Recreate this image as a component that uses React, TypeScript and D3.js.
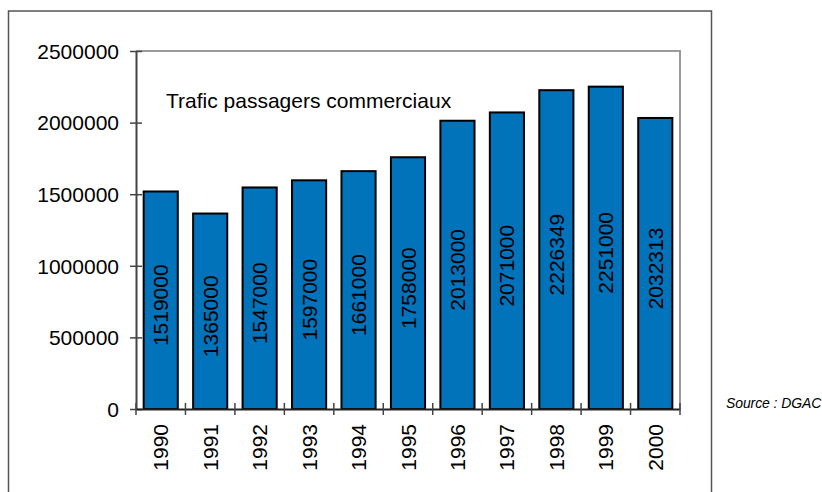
// Bar chart: commercial passenger traffic 1990-2000
import { useEffect, useRef } from "react";
import * as d3 from "d3";

// Data
const years = ["1990", "1991", "1992", "1993", "1994", "1995", "1996", "1997", "1998", "1999", "2000"];
const passengers = [1519000, 1365000, 1547000, 1597000, 1661000, 1758000, 2013000, 2071000, 2226349, 2251000, 2032313];
const yTicks = [0, 500000, 1000000, 1500000, 2000000, 2500000];

const TITLE = "Trafic passagers commerciaux";
const SOURCE = "Source : DGAC";

// Layout constants
const width = 822;
const height = 492;
const PLOT = { left: 136, right: 680, top: 51, bottom: 409 };
const FONT = "Arial, 'Liberation Sans', sans-serif";
const BAR_COLOR = "#0073BB";

export default function App() {
  const svgRef = useRef<SVGSVGElement | null>(null);

  useEffect(() => {
    const svg = d3.select(svgRef.current);
    svg.selectAll("*").remove();

    const x = d3
      .scaleBand()
      .domain(years)
      .range([PLOT.left, PLOT.right])
      .paddingInner(0.31)
      .paddingOuter(0.155);

    const y = d3.scaleLinear().domain([0, 2500000]).range([PLOT.bottom, PLOT.top]);

    // outer frame (bottom edge falls off the page)
    svg
      .append("rect")
      .attr("x", 8.5)
      .attr("y", 11)
      .attr("width", 703)
      .attr("height", 520)
      .attr("fill", "none")
      .attr("stroke", "#555")
      .attr("stroke-width", 1.5);

    // plot area border (top and right in grey)
    svg
      .append("path")
      .attr("d", `M${PLOT.left},${PLOT.top}H${PLOT.right}V${PLOT.bottom}`)
      .attr("fill", "none")
      .attr("stroke", "#999")
      .attr("stroke-width", 2);

    // bars
    svg
      .append("g")
      .selectAll("rect")
      .data(passengers)
      .join("rect")
      .attr("x", (d, i) => x(years[i]) as number)
      .attr("y", (d) => y(d))
      .attr("width", x.bandwidth())
      .attr("height", (d) => y(0) - y(d))
      .attr("fill", BAR_COLOR)
      .attr("stroke", "#000")
      .attr("stroke-width", 2);

    // value labels inside bars
    svg
      .append("g")
      .selectAll("text")
      .data(passengers)
      .join("text")
      .attr("transform", (d, i) => {
        const cx = (x(years[i]) as number) + x.bandwidth() / 2;
        const cy = (y(d) + y(0)) / 2 + 5;
        return `translate(${cx},${cy}) rotate(-90)`;
      })
      .attr("text-anchor", "middle")
      .attr("dominant-baseline", "central")
      .attr("font-family", FONT)
      .attr("font-size", 21)
      .attr("fill", "#000")
      .text((d) => String(d));

    // y axis
    const yAxis = svg.append("g").attr("transform", `translate(${PLOT.left},0)`);
    yAxis
      .call(d3.axisLeft(y).tickValues(yTicks).tickSize(6).tickSizeOuter(0).tickFormat((d) => String(d)))
      .call((g) => g.select(".domain").attr("stroke", "#444").attr("stroke-width", 2))
      .call((g) => g.selectAll(".tick line").attr("stroke", "#444").attr("stroke-width", 1.5).attr("x2", 6).attr("x1", -6))
      .call((g) =>
        g
          .selectAll(".tick text")
          .attr("x", -17)
          .attr("dy", "0.35em")
          .attr("font-family", FONT)
          .attr("font-size", 21)
          .attr("fill", "#000")
      );

    // x axis
    const xAxis = svg.append("g").attr("transform", `translate(0,${PLOT.bottom})`);
    xAxis
      .call(d3.axisBottom(x).tickSize(0).tickSizeOuter(0))
      .call((g) => g.select(".domain").attr("stroke", "#222").attr("stroke-width", 2))
      .call((g) => g.selectAll(".tick line").remove())
      .call((g) =>
        g
          .selectAll(".tick text")
          .attr("transform", "translate(0,15) rotate(-90)")
          .attr("x", 0)
          .attr("y", 0)
          .attr("dy", null)
          .attr("text-anchor", "end")
          .attr("dominant-baseline", "central")
          .attr("font-family", FONT)
          .attr("font-size", 21)
          .attr("fill", "#000")
      );

    // category boundary ticks crossing the x axis
    const bounds = years.map((yr) => (x(yr) as number) - (x.step() * x.paddingInner()) / 2);
    bounds.push(PLOT.right);
    svg
      .append("g")
      .selectAll("line")
      .data(bounds)
      .join("line")
      .attr("x1", (d) => d)
      .attr("x2", (d) => d)
      .attr("y1", PLOT.bottom - 6)
      .attr("y2", PLOT.bottom + 6)
      .attr("stroke", "#444")
      .attr("stroke-width", 1.5);

    // title
    svg
      .append("text")
      .attr("x", 166)
      .attr("y", 108)
      .attr("font-family", FONT)
      .attr("font-size", 21)
      .attr("fill", "#000")
      .text(TITLE);

    // source note
    svg
      .append("text")
      .attr("x", 726)
      .attr("y", 408)
      .attr("font-family", FONT)
      .attr("font-size", 14)
      .attr("font-style", "italic")
      .attr("letter-spacing", -0.1)
      .attr("fill", "#000")
      .text(SOURCE);
  }, []);

  return (
    <div style={{ position: "absolute", left: 0, top: 0 }}>
      <svg width={width} height={height} ref={svgRef} style={{ display: "block", background: "#fff" }} />
    </div>
  );
}
